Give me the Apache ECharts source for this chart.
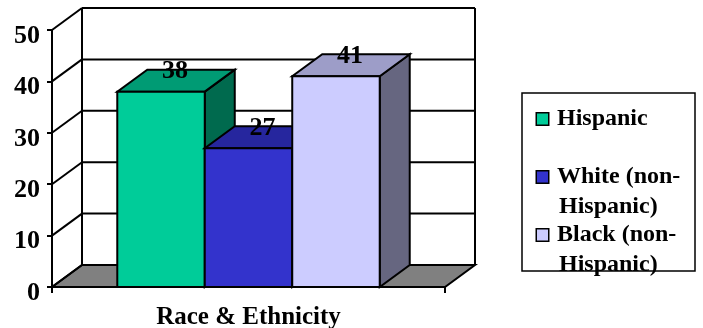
<!DOCTYPE html>
<html>
<head>
<meta charset="utf-8">
<script src="https://cdn.jsdelivr.net/npm/echarts@6/dist/echarts.min.js"></script>
<style>
  html, body { margin: 0; padding: 0; background: #fff; }
  #chart { width: 703px; height: 328px; }
</style>
</head>
<body>
<div id="chart"></div>
<script>
// Survey share by race & ethnicity (percent)
const categories = ['Race & Ethnicity'];
const seriesNames = ['Hispanic', 'White (non-Hispanic)', 'Black (non-Hispanic)'];
const values = [38, 27, 41];
const yTicks = [0, 10, 20, 30, 40, 50];

// Face colours for each box: front, top, side
const faceColors = [
  { front: '#00CC99', top: '#009B74', side: '#006A4E' },
  { front: '#3333CC', top: '#26269E', side: '#1F1F80' },
  { front: '#CCCCFF', top: '#9D9DC8', side: '#666680' }
];

const FONT = "'Liberation Serif', 'Times New Roman', serif";
const DEPTH_X = 30;   // horizontal offset of the back plane
const DEPTH_Y = 22;   // vertical offset of the back plane
const BAR_FRACTION = 0.2226; // bar width as share of the category band
const STROKE = '#000';
const LW = 2;

const chart = echarts.init(document.getElementById('chart'), null, { renderer: 'canvas' });

// Back wall, side wall and floor, laid out from the value axis ticks
function renderWalls(params, api) {
  const cs = params.coordSys;
  const t = api.value(1);
  const y = api.coord([0, t])[1];
  const y0 = api.coord([0, yTicks[0]])[1];
  const xL = cs.x, xR = cs.x + cs.width;
  const children = [];
  if (t === yTicks[0]) {
    children.push({
      type: 'polygon',
      shape: { points: [[xL, y0], [xR, y0], [xR + DEPTH_X, y0 - DEPTH_Y], [xL + DEPTH_X, y0 - DEPTH_Y]] },
      style: { fill: '#808080', stroke: STROKE, lineWidth: LW }
    });
  } else {
    children.push({
      type: 'line',
      shape: { x1: xL + DEPTH_X, y1: y - DEPTH_Y, x2: xR + DEPTH_X, y2: y - DEPTH_Y },
      style: { stroke: STROKE, lineWidth: LW }
    });
  }
  children.push({
    type: 'line',
    shape: { x1: xL, y1: y, x2: xL + DEPTH_X, y2: y - DEPTH_Y },
    style: { stroke: STROKE, lineWidth: LW }
  });
  if (t === yTicks[yTicks.length - 1]) {
    [xL + DEPTH_X, xR + DEPTH_X].forEach(function (x) {
      children.push({
        type: 'line',
        shape: { x1: x, y1: y - DEPTH_Y, x2: x, y2: y0 - DEPTH_Y },
        style: { stroke: STROKE, lineWidth: LW }
      });
    });
  }
  return { type: 'group', children: children };
}

// One 3D box per series, placed side by side inside the category band
function makeBoxRenderer(i) {
  return function (params, api) {
    const cs = params.coordSys;
    const v = api.value(1);
    const base = api.coord([api.value(0), 0]);
    const top = api.coord([api.value(0), v]);
    const bw = cs.width * BAR_FRACTION;
    const n = seriesNames.length;
    const x = base[0] + (i - n / 2) * bw;
    const y0 = base[1], y1 = top[1];
    const c = faceColors[i];
    return {
      type: 'group',
      children: [
        {
          type: 'polygon',
          shape: { points: [[x + bw, y1], [x + bw + DEPTH_X, y1 - DEPTH_Y], [x + bw + DEPTH_X, y0 - DEPTH_Y], [x + bw, y0]] },
          style: { fill: c.side, stroke: STROKE, lineWidth: LW }
        },
        {
          type: 'polygon',
          shape: { points: [[x, y1], [x + bw, y1], [x + bw + DEPTH_X, y1 - DEPTH_Y], [x + DEPTH_X, y1 - DEPTH_Y]] },
          style: { fill: c.top, stroke: STROKE, lineWidth: LW }
        },
        {
          type: 'rect',
          shape: { x: x, y: y1, width: bw, height: y0 - y1 },
          style: { fill: c.front, stroke: STROKE, lineWidth: LW }
        },
        {
          type: 'text',
          z2: 10,
          style: {
            text: String(v),
            x: x + bw / 2 + DEPTH_X / 2 - 1,
            y: y1 - DEPTH_Y + 2,
            align: 'center',
            verticalAlign: 'middle',
            font: 'bold 26px ' + FONT,
            fill: '#000'
          }
        }
      ]
    };
  };
}

// Legend rich-text styles: a coloured square before the first line
const LEGEND_LH = 30;
const legendRich = {
  t: { fontFamily: FONT, fontWeight: 'bold', fontSize: 24, color: '#000', lineHeight: LEGEND_LH },
  g: { width: 9, lineHeight: LEGEND_LH },
  p: { width: 22, lineHeight: LEGEND_LH }
};
faceColors.forEach(function (c, i) {
  legendRich['m' + i] = {
    width: 11, height: 11, backgroundColor: c.front,
    borderColor: '#000', borderWidth: 1.5, lineHeight: LEGEND_LH
  };
});

function legendLabel(name) {
  const i = seriesNames.indexOf(name);
  const lines = name.replace('(non-', '(non-\n').split('\n');
  if (lines.length === 1) lines.push(' ');
  return lines.map(function (line, k) {
    const lead = k === 0 ? '{m' + i + '|}{g|}' : '{p|}';
    return lead + '{t|' + line + '}';
  }).join('\n');
}

const series = [{
  type: 'custom',
  silent: true,
  z: 1,
  renderItem: renderWalls,
  data: yTicks.map(function (t) { return [0, t]; }),
  encode: { x: 0, y: 1 }
}];
seriesNames.forEach(function (name, i) {
  series.push({
    type: 'custom',
    name: name,
    z: 2 + i,
    itemStyle: { color: faceColors[i].front },
    renderItem: makeBoxRenderer(i),
    data: [[0, values[i]]],
    encode: { x: 0, y: 1 }
  });
});

chart.setOption({
  animation: false,
  backgroundColor: '#fff',
  grid: { left: 52, right: 258, top: 30, bottom: 41, containLabel: false, outerBoundsMode: 'none' },
  xAxis: {
    type: 'category',
    data: categories,
    boundaryGap: true,
    axisLine: { show: true, lineStyle: { color: '#000', width: 2 } },
    axisTick: { show: true, length: 6, lineStyle: { color: '#000', width: 2 } },
    axisLabel: { color: '#000', fontFamily: FONT, fontWeight: 'bold', fontSize: 25, margin: 18 },
    splitLine: { show: false }
  },
  yAxis: {
    type: 'value',
    min: 0,
    max: 50,
    interval: 10,
    axisLine: { show: true, lineStyle: { color: '#000', width: 2 } },
    axisTick: { show: true, length: 5, lineStyle: { color: '#000', width: 2 } },
    axisLabel: {
      color: '#000', fontFamily: FONT, fontWeight: 'bold', fontSize: 26,
      margin: 12, verticalAlign: 'top', lineHeight: 12
    },
    splitLine: { show: false }
  },
  legend: {
    data: seriesNames,
    orient: 'vertical',
    left: 532,
    top: 107,
    padding: 0,
    itemGap: 4,
    itemWidth: 0,
    itemHeight: 0,
    selectedMode: false,
    formatter: legendLabel,
    textStyle: { rich: legendRich }
  },
  graphic: [{
    type: 'rect',
    shape: { x: 522, y: 93, width: 173, height: 178 },
    style: { fill: 'none', stroke: '#000', lineWidth: 1.5 },
    silent: true
  }],
  series: series
});
</script>
</body>
</html>
